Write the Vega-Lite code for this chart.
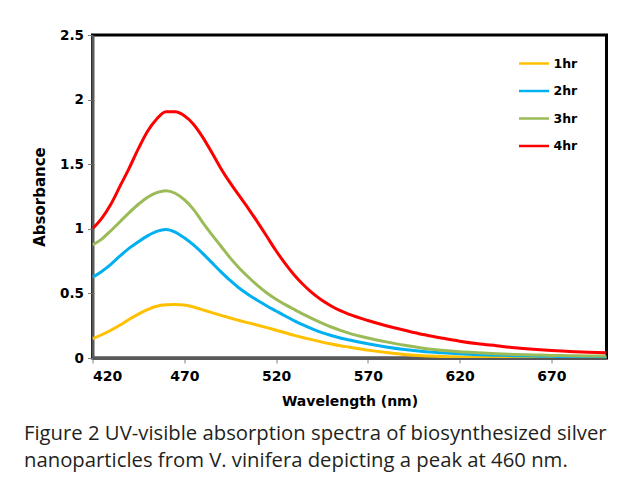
{
  "$schema": "https://vega.github.io/schema/vega-lite/v6.json",
  "width": 514,
  "height": 323,
  "autosize": {"type": "none"},
  "padding": {"left": 92.5, "top": 35, "right": 22.5, "bottom": 120},
  "background": "white",
  "config": {
    "view": {"stroke": "#000000", "strokeWidth": 3},
    "axis": {
      "grid": false,
      "domainColor": "#595959",
      "domainWidth": 3,
      "tickColor": "#7f7f7f",
      "tickWidth": 1,
      "tickSize": 5,
      "labelFont": "DejaVu Sans",
      "labelFontWeight": "bold",
      "labelColor": "#000000",
      "titleFont": "DejaVu Sans",
      "titleFontWeight": "bold",
      "titleColor": "#000000"
    }
  },
  "title": {
    "text": ["Figure 2 UV-visible absorption spectra of biosynthesized silver", "nanoparticles from V. vinifera depicting a peak at 460 nm."],
    "orient": "bottom",
    "anchor": "start",
    "frame": "group",
    "dx": -68.5,
    "offset": 16,
    "font": "Open Sans",
    "fontSize": 20.3,
    "fontWeight": "normal",
    "color": "#231f20",
    "lineHeight": 27
  },
  "data": {
    "values": [
      {"w": 420, "1hr": 0.15, "2hr": 0.625, "3hr": 0.875, "4hr": 1.0},
      {"w": 425, "1hr": 0.18, "2hr": 0.67, "3hr": 0.92, "4hr": 1.08},
      {"w": 430, "1hr": 0.215, "2hr": 0.725, "3hr": 0.985, "4hr": 1.19},
      {"w": 435, "1hr": 0.255, "2hr": 0.79, "3hr": 1.055, "4hr": 1.33},
      {"w": 440, "1hr": 0.3, "2hr": 0.85, "3hr": 1.125, "4hr": 1.47},
      {"w": 445, "1hr": 0.34, "2hr": 0.9, "3hr": 1.19, "4hr": 1.62},
      {"w": 450, "1hr": 0.375, "2hr": 0.945, "3hr": 1.245, "4hr": 1.755},
      {"w": 455, "1hr": 0.4, "2hr": 0.98, "3hr": 1.28, "4hr": 1.85},
      {"w": 460, "1hr": 0.412, "2hr": 0.995, "3hr": 1.295, "4hr": 1.905},
      {"w": 465, "1hr": 0.415, "2hr": 0.975, "3hr": 1.275, "4hr": 1.905},
      {"w": 470, "1hr": 0.41, "2hr": 0.93, "3hr": 1.225, "4hr": 1.875},
      {"w": 475, "1hr": 0.395, "2hr": 0.875, "3hr": 1.15, "4hr": 1.81},
      {"w": 480, "1hr": 0.373, "2hr": 0.81, "3hr": 1.05, "4hr": 1.71},
      {"w": 485, "1hr": 0.351, "2hr": 0.738, "3hr": 0.955, "4hr": 1.59},
      {"w": 490, "1hr": 0.33, "2hr": 0.667, "3hr": 0.865, "4hr": 1.465},
      {"w": 495, "1hr": 0.31, "2hr": 0.6, "3hr": 0.775, "4hr": 1.355},
      {"w": 500, "1hr": 0.29, "2hr": 0.54, "3hr": 0.695, "4hr": 1.255},
      {"w": 505, "1hr": 0.272, "2hr": 0.49, "3hr": 0.625, "4hr": 1.155},
      {"w": 510, "1hr": 0.254, "2hr": 0.445, "3hr": 0.56, "4hr": 1.05},
      {"w": 515, "1hr": 0.235, "2hr": 0.403, "3hr": 0.503, "4hr": 0.94},
      {"w": 520, "1hr": 0.215, "2hr": 0.364, "3hr": 0.455, "4hr": 0.83},
      {"w": 525, "1hr": 0.195, "2hr": 0.325, "3hr": 0.413, "4hr": 0.73},
      {"w": 530, "1hr": 0.175, "2hr": 0.288, "3hr": 0.375, "4hr": 0.64},
      {"w": 535, "1hr": 0.157, "2hr": 0.254, "3hr": 0.338, "4hr": 0.565},
      {"w": 540, "1hr": 0.14, "2hr": 0.223, "3hr": 0.303, "4hr": 0.5},
      {"w": 545, "1hr": 0.123, "2hr": 0.196, "3hr": 0.27, "4hr": 0.447},
      {"w": 550, "1hr": 0.108, "2hr": 0.174, "3hr": 0.24, "4hr": 0.403},
      {"w": 555, "1hr": 0.095, "2hr": 0.155, "3hr": 0.214, "4hr": 0.366},
      {"w": 560, "1hr": 0.084, "2hr": 0.139, "3hr": 0.191, "4hr": 0.337},
      {"w": 570, "1hr": 0.061, "2hr": 0.11, "3hr": 0.155, "4hr": 0.29},
      {"w": 580, "1hr": 0.042, "2hr": 0.085, "3hr": 0.125, "4hr": 0.25},
      {"w": 590, "1hr": 0.028, "2hr": 0.065, "3hr": 0.098, "4hr": 0.215},
      {"w": 600, "1hr": 0.018, "2hr": 0.05, "3hr": 0.076, "4hr": 0.182},
      {"w": 610, "1hr": 0.012, "2hr": 0.04, "3hr": 0.06, "4hr": 0.155},
      {"w": 620, "1hr": 0.008, "2hr": 0.032, "3hr": 0.048, "4hr": 0.13},
      {"w": 630, "1hr": 0.006, "2hr": 0.026, "3hr": 0.04, "4hr": 0.11},
      {"w": 640, "1hr": 0.005, "2hr": 0.022, "3hr": 0.033, "4hr": 0.095},
      {"w": 650, "1hr": 0.004, "2hr": 0.018, "3hr": 0.028, "4hr": 0.08},
      {"w": 660, "1hr": 0.003, "2hr": 0.015, "3hr": 0.024, "4hr": 0.068},
      {"w": 670, "1hr": 0.002, "2hr": 0.013, "3hr": 0.02, "4hr": 0.058},
      {"w": 680, "1hr": 0.002, "2hr": 0.011, "3hr": 0.018, "4hr": 0.05},
      {"w": 690, "1hr": 0.001, "2hr": 0.01, "3hr": 0.016, "4hr": 0.045},
      {"w": 700, "1hr": 0.001, "2hr": 0.01, "3hr": 0.015, "4hr": 0.04}
    ]
  },
  "transform": [
    {"fold": ["1hr", "2hr", "3hr", "4hr"], "as": ["series", "a"]}
  ],
  "mark": {"type": "line", "strokeWidth": 3, "interpolate": "monotone", "clip": true},
  "encoding": {
    "x": {
      "field": "w",
      "type": "quantitative",
      "scale": {"domain": [420, 700], "nice": false, "zero": false},
      "axis": {
        "values": [420, 470, 520, 570, 620, 670],
        "title": "Wavelength (nm)",
        "labelFontSize": 14,
        "labelPadding": 6,
        "titleFontSize": 14,
        "titlePadding": 11
      }
    },
    "y": {
      "field": "a",
      "type": "quantitative",
      "scale": {"domain": [0, 2.5], "nice": false},
      "axis": {
        "values": [0, 0.5, 1, 1.5, 2, 2.5],
        "format": "~g",
        "title": "Absorbance",
        "labelFontSize": 13.5,
        "labelPadding": 4,
        "titleFontSize": 15,
        "titlePadding": 12
      }
    },
    "color": {
      "field": "series",
      "type": "nominal",
      "scale": {"domain": ["1hr", "2hr", "3hr", "4hr"], "range": ["#FFC000", "#00B0F0", "#9BBB59", "#FF0000"]},
      "legend": {
        "title": null,
        "orient": "none",
        "legendX": 425,
        "legendY": 12,
        "symbolType": "stroke",
        "symbolSize": 900,
        "symbolStrokeWidth": 2.5,
        "labelFont": "DejaVu Sans",
        "labelFontWeight": "bold",
        "labelFontSize": 12.5,
        "labelColor": "#000000",
        "labelOffset": 3,
        "rowPadding": 4.5
      }
    }
  }
}
